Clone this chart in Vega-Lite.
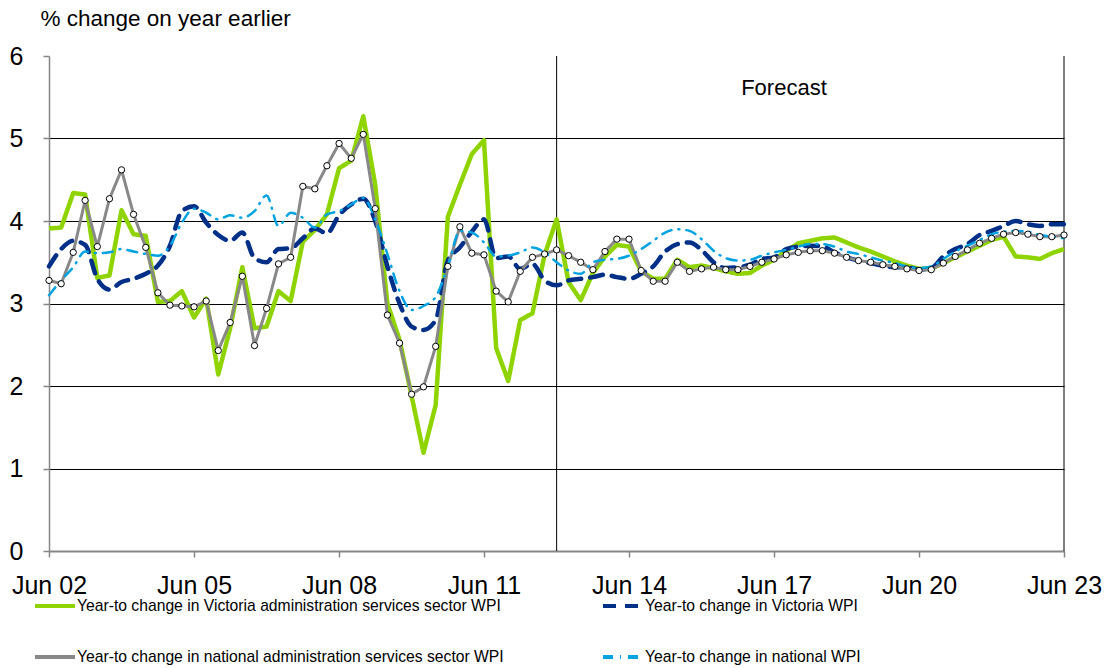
{
  "$schema": "https://vega.github.io/schema/vega-lite/v6.json",
  "width": 1015,
  "height": 495,
  "autosize": {"type": "none"},
  "padding": {"left": 49, "top": 56, "right": 43, "bottom": 117},
  "background": "white",
  "config": {
    "view": {"stroke": null},
    "font": "Liberation Sans",
    "legend": {"symbolType": "stroke", "symbolSize": 1600, "symbolStrokeWidth": 4, "labelFontSize": 15.7, "labelOffset": 0, "labelLimit": 0, "padding": 0}
  },
  "datasets": {
    "wpi": [
      {"d":"2002-06-01","vas":3.91,"vic":3.45,"nas":3.28,"nat":3.10},
      {"d":"2002-09-01","vas":3.92,"vic":3.66,"nas":3.24,"nat":3.28},
      {"d":"2002-12-01","vas":4.34,"vic":3.76,"nas":3.62,"nat":3.44},
      {"d":"2003-03-01","vas":4.32,"vic":3.71,"nas":4.25,"nat":3.63},
      {"d":"2003-06-01","vas":3.31,"vic":3.30,"nas":3.69,"nat":3.61},
      {"d":"2003-09-01","vas":3.34,"vic":3.17,"nas":4.27,"nat":3.62},
      {"d":"2003-12-01","vas":4.13,"vic":3.26,"nas":4.62,"nat":3.66},
      {"d":"2004-03-01","vas":3.84,"vic":3.30,"nas":4.08,"nat":3.63},
      {"d":"2004-06-01","vas":3.82,"vic":3.36,"nas":3.68,"nat":3.60},
      {"d":"2004-09-01","vas":3.02,"vic":3.46,"nas":3.13,"nat":3.58},
      {"d":"2004-12-01","vas":3.03,"vic":3.70,"nas":2.98,"nat":3.70},
      {"d":"2005-03-01","vas":3.15,"vic":4.12,"nas":2.97,"nat":3.98},
      {"d":"2005-06-01","vas":2.83,"vic":4.18,"nas":2.96,"nat":4.15},
      {"d":"2005-09-01","vas":3.06,"vic":3.98,"nas":3.03,"nat":4.10},
      {"d":"2005-12-01","vas":2.14,"vic":3.83,"nas":2.43,"nat":4.02},
      {"d":"2006-03-01","vas":2.70,"vic":3.76,"nas":2.77,"nat":4.07},
      {"d":"2006-06-01","vas":3.44,"vic":3.86,"nas":3.33,"nat":4.04},
      {"d":"2006-09-01","vas":2.70,"vic":3.55,"nas":2.49,"nat":4.12},
      {"d":"2006-12-01","vas":2.72,"vic":3.50,"nas":2.94,"nat":4.31},
      {"d":"2007-03-01","vas":3.15,"vic":3.66,"nas":3.48,"nat":3.94},
      {"d":"2007-06-01","vas":3.03,"vic":3.67,"nas":3.56,"nat":4.10},
      {"d":"2007-09-01","vas":3.75,"vic":3.79,"nas":4.42,"nat":4.04},
      {"d":"2007-12-01","vas":3.89,"vic":3.91,"nas":4.39,"nat":3.92},
      {"d":"2008-03-01","vas":4.08,"vic":3.85,"nas":4.67,"nat":4.08},
      {"d":"2008-06-01","vas":4.64,"vic":4.07,"nas":4.94,"nat":4.12},
      {"d":"2008-09-01","vas":4.73,"vic":4.20,"nas":4.76,"nat":4.20},
      {"d":"2008-12-01","vas":5.27,"vic":4.27,"nas":5.05,"nat":4.28},
      {"d":"2009-03-01","vas":4.44,"vic":4.00,"nas":4.15,"nat":4.02},
      {"d":"2009-06-01","vas":3.00,"vic":3.45,"nas":2.86,"nat":3.60},
      {"d":"2009-09-01","vas":2.56,"vic":3.00,"nas":2.52,"nat":3.15},
      {"d":"2009-12-01","vas":1.88,"vic":2.72,"nas":1.90,"nat":2.92},
      {"d":"2010-03-01","vas":1.19,"vic":2.68,"nas":1.99,"nat":2.97},
      {"d":"2010-06-01","vas":1.77,"vic":2.80,"nas":2.48,"nat":3.08},
      {"d":"2010-09-01","vas":4.05,"vic":3.52,"nas":3.45,"nat":3.45},
      {"d":"2010-12-01","vas":4.44,"vic":3.68,"nas":3.93,"nat":3.88},
      {"d":"2011-03-01","vas":4.81,"vic":3.87,"nas":3.61,"nat":3.86},
      {"d":"2011-06-01","vas":4.98,"vic":4.02,"nas":3.59,"nat":3.74},
      {"d":"2011-09-01","vas":2.46,"vic":3.55,"nas":3.15,"nat":3.57},
      {"d":"2011-12-01","vas":2.06,"vic":3.57,"nas":3.02,"nat":3.58},
      {"d":"2012-03-01","vas":2.80,"vic":3.42,"nas":3.39,"nat":3.62},
      {"d":"2012-06-01","vas":2.88,"vic":3.48,"nas":3.56,"nat":3.68},
      {"d":"2012-09-01","vas":3.59,"vic":3.28,"nas":3.60,"nat":3.62},
      {"d":"2012-12-01","vas":4.02,"vic":3.22,"nas":3.65,"nat":3.50},
      {"d":"2013-03-01","vas":3.26,"vic":3.28,"nas":3.58,"nat":3.40},
      {"d":"2013-06-01","vas":3.04,"vic":3.30,"nas":3.50,"nat":3.36},
      {"d":"2013-09-01","vas":3.37,"vic":3.32,"nas":3.41,"nat":3.50},
      {"d":"2013-12-01","vas":3.57,"vic":3.35,"nas":3.63,"nat":3.53},
      {"d":"2014-03-01","vas":3.71,"vic":3.32,"nas":3.78,"nat":3.54},
      {"d":"2014-06-01","vas":3.69,"vic":3.30,"nas":3.78,"nat":3.58},
      {"d":"2014-09-01","vas":3.39,"vic":3.36,"nas":3.40,"nat":3.66},
      {"d":"2014-12-01","vas":3.30,"vic":3.45,"nas":3.27,"nat":3.76},
      {"d":"2015-03-01","vas":3.30,"vic":3.63,"nas":3.27,"nat":3.86},
      {"d":"2015-06-01","vas":3.53,"vic":3.72,"nas":3.50,"nat":3.90},
      {"d":"2015-09-01","vas":3.44,"vic":3.74,"nas":3.39,"nat":3.88},
      {"d":"2015-12-01","vas":3.46,"vic":3.65,"nas":3.42,"nat":3.78},
      {"d":"2016-03-01","vas":3.43,"vic":3.50,"nas":3.44,"nat":3.64},
      {"d":"2016-06-01","vas":3.39,"vic":3.43,"nas":3.41,"nat":3.55},
      {"d":"2016-09-01","vas":3.36,"vic":3.44,"nas":3.41,"nat":3.52},
      {"d":"2016-12-01","vas":3.37,"vic":3.47,"nas":3.45,"nat":3.53},
      {"d":"2017-03-01","vas":3.46,"vic":3.54,"nas":3.50,"nat":3.58},
      {"d":"2017-06-01","vas":3.53,"vic":3.56,"nas":3.54,"nat":3.62},
      {"d":"2017-09-01","vas":3.64,"vic":3.66,"nas":3.59,"nat":3.65},
      {"d":"2017-12-01","vas":3.73,"vic":3.69,"nas":3.62,"nat":3.69},
      {"d":"2018-03-01","vas":3.76,"vic":3.70,"nas":3.64,"nat":3.72},
      {"d":"2018-06-01","vas":3.79,"vic":3.69,"nas":3.64,"nat":3.72},
      {"d":"2018-09-01","vas":3.80,"vic":3.62,"nas":3.61,"nat":3.69},
      {"d":"2018-12-01","vas":3.74,"vic":3.56,"nas":3.56,"nat":3.63},
      {"d":"2019-03-01","vas":3.68,"vic":3.52,"nas":3.52,"nat":3.60},
      {"d":"2019-06-01","vas":3.63,"vic":3.49,"nas":3.50,"nat":3.56},
      {"d":"2019-09-01","vas":3.57,"vic":3.46,"nas":3.47,"nat":3.52},
      {"d":"2019-12-01","vas":3.51,"vic":3.44,"nas":3.45,"nat":3.49},
      {"d":"2020-03-01","vas":3.46,"vic":3.44,"nas":3.42,"nat":3.45},
      {"d":"2020-06-01","vas":3.42,"vic":3.41,"nas":3.40,"nat":3.43},
      {"d":"2020-09-01","vas":3.42,"vic":3.43,"nas":3.41,"nat":3.45},
      {"d":"2020-12-01","vas":3.49,"vic":3.57,"nas":3.49,"nat":3.54},
      {"d":"2021-03-01","vas":3.56,"vic":3.66,"nas":3.57,"nat":3.63},
      {"d":"2021-06-01","vas":3.63,"vic":3.72,"nas":3.65,"nat":3.70},
      {"d":"2021-09-01","vas":3.70,"vic":3.83,"nas":3.73,"nat":3.77},
      {"d":"2021-12-01","vas":3.77,"vic":3.88,"nas":3.79,"nat":3.84},
      {"d":"2022-03-01","vas":3.81,"vic":3.94,"nas":3.84,"nat":3.87},
      {"d":"2022-06-01","vas":3.57,"vic":4.00,"nas":3.86,"nat":3.88},
      {"d":"2022-09-01","vas":3.56,"vic":3.96,"nas":3.84,"nat":3.87},
      {"d":"2022-12-01","vas":3.54,"vic":3.94,"nas":3.81,"nat":3.83},
      {"d":"2023-03-01","vas":3.61,"vic":3.96,"nas":3.81,"nat":3.81},
      {"d":"2023-06-01","vas":3.66,"vic":3.96,"nas":3.83,"nat":3.79}
    ],
    "refs": [
      {"d":"2012-12-01","what":"forecast start"},
      {"d":"2023-06-01","what":"end"}
    ],
    "notes": [
      {"d":"2017-08-15","v":5.61,"label":"Forecast"}
    ]
  },
  "encoding": {
    "x": {
      "field": "d",
      "type": "temporal",
      "scale": {
        "type": "utc",
        "domain": [
          {"year": 2002, "month": 6, "date": 1, "utc": true},
          {"year": 2023, "month": 6, "date": 1, "utc": true}
        ]
      },
      "axis": {
        "title": null,
        "labelExpr": "utcFormat(datum.value, '%b %y')",
        "values": [
          {"year": 2002, "month": 6, "date": 1, "utc": true},
          {"year": 2005, "month": 6, "date": 1, "utc": true},
          {"year": 2008, "month": 6, "date": 1, "utc": true},
          {"year": 2011, "month": 6, "date": 1, "utc": true},
          {"year": 2014, "month": 6, "date": 1, "utc": true},
          {"year": 2017, "month": 6, "date": 1, "utc": true},
          {"year": 2020, "month": 6, "date": 1, "utc": true},
          {"year": 2023, "month": 6, "date": 1, "utc": true}
        ],
        "grid": false,
        "labelFontSize": 25,
        "labelColor": "#000",
        "labelPadding": 16,
        "labelOverlap": false,
        "labelFlush": false,
        "tickSize": 6,
        "tickColor": "#868686",
        "tickWidth": 1.5,
        "domainColor": "#868686",
        "domainWidth": 2
      }
    }
  },
  "layer": [
    {
      "data": {"name": "refs"},
      "mark": {"type": "rule", "color": "#000", "strokeWidth": 1},
      "encoding": {}
    },
    {
      "data": {"name": "notes"},
      "mark": {"type": "text", "fontSize": 22, "align": "center", "baseline": "middle", "color": "#000"},
      "encoding": {
        "y": {"field": "v", "type": "quantitative"},
        "text": {"field": "label"}
      }
    },
    {
      "data": {"name": "wpi"},
      "transform": [
        {"fold": ["vas", "vic", "nas", "nat"], "as": ["key", "value"]}
      ],
      "encoding": {
        "y": {
          "field": "value",
          "type": "quantitative",
          "scale": {"domain": [0, 6], "nice": false},
          "axis": {
            "title": "% change on year earlier",
            "titleAngle": 0,
            "titleAlign": "left",
            "titleBaseline": "middle",
            "titleX": -9,
            "titleY": -38,
            "titleFontSize": 22.5,
            "titleFontWeight": "normal",
            "titleColor": "#000",
            "values": [0, 1, 2, 3, 4, 5, 6],
            "format": "d",
            "labelFontSize": 25,
            "labelColor": "#000",
            "labelPadding": 20,
            "labelFlush": false,
            "tickSize": 6,
            "tickColor": "#868686",
            "tickWidth": 1.5,
            "domainColor": "#868686",
            "domainWidth": 1.5,
            "grid": true,
            "gridColor": "#000",
            "gridWidth": 1,
            "gridOpacity": {"condition": {"test": "datum.value >= 6", "value": 0}, "value": 1}
          }
        },
        "color": {
          "field": "key",
          "type": "nominal",
          "scale": {"domain": ["vas", "vic", "nas", "nat"], "range": ["#8FD400", "#002F87", "#888888", "#00A3E0"]},
          "legend": {
            "orient": "none",
            "legendX": -16,
            "legendY": 528,
            "direction": "horizontal",
            "columns": 2,
            "columnPadding": 91,
            "rowPadding": 21,
            "padding": 0,
            "title": null,
            "symbolType": "stroke",
            "symbolSize": 1600,
            "symbolStrokeWidth": 4,
            "labelFontSize": 15.7,
            "labelColor": "#000",
            "labelOffset": 0,
            "labelLimit": 0,
            "labelExpr": "datum.value == 'vas' ? 'Year-to change in Victoria administration services sector WPI' : datum.value == 'vic' ? 'Year-to change in Victoria WPI' : datum.value == 'nas' ? 'Year-to change in national administration services sector WPI' : 'Year-to change in national WPI'"
          }
        },
        "strokeDash": {
          "field": "key",
          "type": "nominal",
          "scale": {"domain": ["vas", "vic", "nas", "nat"], "range": [[1, 0], [13, 9], [1, 0], [10, 7, 1, 7]]}
        }
      },
      "layer": [
        {
          "transform": [{"filter": "datum.key === 'vas'"}],
          "mark": {"type": "line", "strokeWidth": 4.5, "strokeJoin": "round"}
        },
        {
          "transform": [{"filter": "datum.key === 'vic'"}],
          "mark": {"type": "line", "strokeWidth": 4.5, "interpolate": "monotone", "strokeCap": "round"}
        },
        {
          "transform": [{"filter": "datum.key === 'nas'"}],
          "mark": {"type": "line", "strokeWidth": 3, "strokeJoin": "round"}
        },
        {
          "transform": [{"filter": "datum.key === 'nat'"}],
          "mark": {"type": "line", "strokeWidth": 2.5, "interpolate": "monotone", "strokeCap": "round"}
        }
      ]
    },
    {
      "data": {"name": "wpi"},
      "mark": {"type": "point", "shape": "circle", "filled": true, "fill": "#fff", "stroke": "#000", "strokeWidth": 1, "size": 40, "opacity": 1},
      "encoding": {
        "y": {"field": "nas", "type": "quantitative"}
      }
    }
  ]
}
